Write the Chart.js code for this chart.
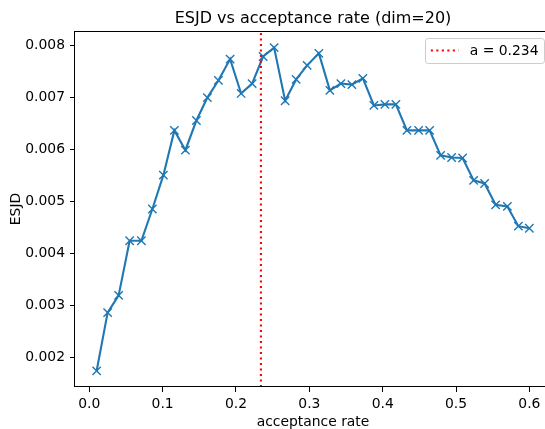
<!DOCTYPE html>
<html><head><meta charset="utf-8">
<script src="https://cdn.jsdelivr.net/npm/chart.js@4"></script>
<style>html,body{margin:0;padding:0;overflow:hidden;background:#fff;width:545px;height:429px}</style>
</head><body>
<canvas id="c" width="560" height="431" style="display:block;width:560px;height:431px"></canvas>
<script>
const acceptanceRate = [0.010, 0.025, 0.040, 0.055, 0.071, 0.086, 0.101, 0.116, 0.131, 0.146,
  0.161, 0.176, 0.192, 0.207, 0.222, 0.237, 0.252, 0.267, 0.282, 0.297,
  0.313, 0.328, 0.343, 0.358, 0.373, 0.388, 0.403, 0.418, 0.433, 0.449,
  0.464, 0.479, 0.494, 0.509, 0.524, 0.539, 0.554, 0.570, 0.585, 0.600];
const esjd = [0.00175, 0.00287, 0.00320, 0.00425, 0.00425, 0.00486, 0.00551, 0.00637, 0.00599, 0.00656,
  0.00700, 0.00733, 0.00774, 0.00708, 0.00727, 0.00779, 0.00796, 0.00694, 0.00735, 0.00762,
  0.00785, 0.00714, 0.00727, 0.00725, 0.00737, 0.00685, 0.00687, 0.00687, 0.00637, 0.00637,
  0.00637, 0.00589, 0.00585, 0.00584, 0.00541, 0.00535, 0.00494, 0.00491, 0.00453, 0.00449];
const xTicks = [0.0, 0.1, 0.2, 0.3, 0.4, 0.5, 0.6];
const yTicks = [0.002, 0.003, 0.004, 0.005, 0.006, 0.007, 0.008];
const xLimits = [-0.0195, 0.6295];
const yLimits = [0.00144, 0.00828];
const targetRate = 0.234;
const targetLabel = 'a = 0.234';
const titleText = 'ESJD vs acceptance rate (dim=20)';
const xLabel = 'acceptance rate';
const yLabel = 'ESJD';

const FONT = "'DejaVu Sans', sans-serif";
const points = acceptanceRate.map((x, i) => ({x: x, y: esjd[i]}));
const vline = [{x: targetRate, y: yLimits[0]}, {x: targetRate, y: yLimits[1]}];

const framePlugin = {
  id: 'frame',
  afterDraw(chart) {
    const a = chart.chartArea, ctx = chart.ctx;
    ctx.save();
    ctx.strokeStyle = '#000';
    ctx.lineWidth = 1;
    ctx.strokeRect(Math.round(a.left) - 0.5, Math.round(a.top) + 0.5,
      Math.round(a.right - a.left) + 1, Math.round(a.bottom - a.top) - 1);
    ctx.restore();
  }
};

const legendPlugin = {
  id: 'mplLegend',
  afterDraw(chart) {
    const a = chart.chartArea, ctx = chart.ctx;
    const ds = chart.data.datasets[1];
    ctx.save();
    ctx.font = "13.9px " + FONT;
    const tw = ctx.measureText(ds.label).width;
    const fs = 13.9;
    const right = a.right - 0.5 * fs;
    const top = a.top + 0.5 * fs;
    const w = 0.4 * fs + 2.0 * fs + 0.8 * fs + tw + 0.4 * fs;
    const h = 25;
    const left = right - w;
    ctx.beginPath();
    ctx.roundRect(Math.round(left) + 0.5, Math.round(top) + 0.5, Math.round(w), h, 2.8);
    ctx.fillStyle = 'rgba(255,255,255,0.8)';
    ctx.fill();
    ctx.strokeStyle = '#cccccc';
    ctx.lineWidth = 1;
    ctx.stroke();
    const cy = top + h / 2;
    ctx.beginPath();
    ctx.setLineDash(ds.borderDash);
    ctx.strokeStyle = ds.borderColor;
    ctx.lineWidth = ds.borderWidth;
    ctx.moveTo(left + 0.4 * fs, cy);
    ctx.lineTo(left + 2.4 * fs, cy);
    ctx.stroke();
    ctx.setLineDash([]);
    ctx.fillStyle = '#000';
    ctx.textBaseline = 'middle';
    ctx.fillText(ds.label, left + 3.2 * fs, cy + 1);
    ctx.restore();
  }
};

new Chart(document.getElementById('c'), {
  type: 'scatter',
  data: {
    datasets: [
      {
        label: 'ESJD',
        data: points,
        showLine: true,
        borderColor: '#1f77b4',
        backgroundColor: '#1f77b4',
        borderWidth: 2.1,
        pointStyle: 'crossRot',
        pointRadius: 5.9,
        pointHoverRadius: 5.9,
        pointBorderWidth: 1.4,
        pointBorderColor: '#1f77b4',
        tension: 0,
        order: 1
      },
      {
        label: targetLabel,
        data: vline,
        showLine: true,
        borderColor: '#ff0000',
        borderWidth: 2.1,
        borderDash: [2.1, 3.4],
        pointRadius: 0,
        pointHoverRadius: 0,
        order: 0
      }
    ]
  },
  options: {
    responsive: false,
    animation: false,
    devicePixelRatio: 1,
    events: [],
    layout: {padding: {left: 0, right: 9, top: 0, bottom: 0}},
    plugins: {
      legend: {display: false},
      tooltip: {enabled: false},
      title: {
        display: true,
        text: titleText,
        fullSize: false,
        color: '#000',
        font: {family: FONT, size: 16, weight: 'normal'},
        padding: {top: 9, bottom: 2.8}
      }
    },
    scales: {
      x: {
        type: 'linear',
        min: xLimits[0], max: xLimits[1],
        afterBuildTicks: s => { s.ticks = xTicks.map(v => ({value: v})); },
        afterFit: s => { s.height = 44; },
        border: {display: false},
        grid: {drawOnChartArea: false, drawTicks: true, tickLength: 5, tickColor: '#000', lineWidth: 1},
        ticks: {color: '#000', font: {family: FONT, size: 13.9}, padding: 4, maxRotation: 0,
          callback: v => Number(v).toFixed(1)},
        title: {display: true, text: xLabel, color: '#000', font: {family: FONT, size: 13.9}, padding: {top: 0, bottom: 0}}
      },
      y: {
        type: 'linear',
        min: yLimits[0], max: yLimits[1],
        afterBuildTicks: s => { s.ticks = yTicks.map(v => ({value: v})); },
        afterFit: s => { s.width = 75; },
        border: {display: false},
        grid: {drawOnChartArea: false, drawTicks: true, tickLength: 5, tickColor: '#000', lineWidth: 1},
        ticks: {color: '#000', font: {family: FONT, size: 13.9}, padding: 5,
          callback: v => Number(v).toFixed(3)},
        title: {display: true, text: yLabel, color: '#000', font: {family: FONT, size: 13.9}, padding: {top: 8, bottom: 0}}
      }
    }
  },
  plugins: [framePlugin, legendPlugin]
});
</script>
</body></html>
